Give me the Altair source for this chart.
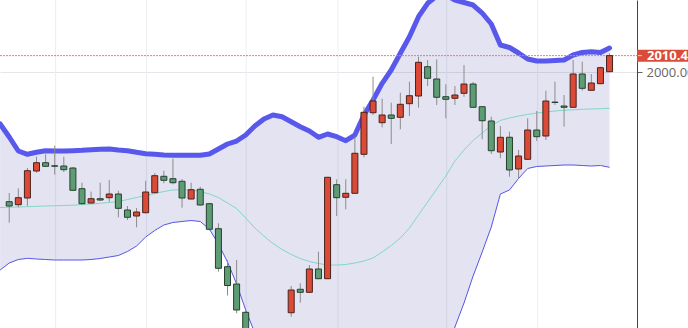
import altair as alt
import pandas as pd

# Daily OHLC candles (index 0..66)
opens = [1919.13, 1917.25, 1921.44, 1938.31, 1943.50, 1941.56, 1941.44, 1940.19, 1927.25, 1918.31,
         1921.00, 1921.63, 1923.94, 1913.94, 1910.19, 1912.25, 1924.75, 1935.00, 1933.50, 1931.88,
         1920.81, 1926.88, 1917.88, 1902.25, 1878.50, 1867.69, 1850.00, 1833.50, 1822.50, 1828.00,
         1818.50, 1849.75, 1864.38, 1862.50, 1877.06, 1871.00, 1929.75, 1921.88, 1924.38, 1948.75,
         1974.75, 1968.50, 1973.31, 1971.88, 1980.38, 1985.19, 2003.50, 1995.81, 1984.75, 1983.75,
         1986.88, 1992.69, 1978.50, 1969.56, 1950.19, 1959.38, 1939.56, 1945.63, 1963.94, 1960.19,
         1981.38, 1978.94, 1978.13, 1998.94, 1988.75, 1992.88, 2000.38]
highs = [1924.56, 1927.50, 1940.19, 1947.25, 1948.75, 1954.13, 1947.25, 1940.81, 1931.00, 1925.38,
         1931.00, 1932.69, 1926.00, 1916.44, 1915.19, 1932.25, 1937.06, 1938.50, 1946.00, 1933.31,
         1931.00, 1928.50, 1918.31, 1905.63, 1882.69, 1882.69, 1850.81, 1836.00, 1831.00, 1830.00,
         1836.00, 1866.44, 1868.13, 1879.56, 1887.88, 1934.56, 1933.13, 1933.13, 1959.75, 1978.50,
         1997.25, 1983.50, 1981.00, 1987.25, 1994.13, 2009.75, 2007.69, 2008.13, 1992.50, 1991.44,
         2004.56, 1993.94, 1978.63, 1972.25, 1966.44, 1962.88, 1951.44, 1971.25, 1975.81, 1988.50,
         1994.13, 1985.81, 2007.69, 2006.63, 1998.94, 2003.50, 2011.88]
lows = [1906.00, 1915.63, 1916.44, 1937.25, 1940.81, 1936.00, 1937.69, 1925.81, 1917.25, 1917.88,
        1919.56, 1919.13, 1909.38, 1907.69, 1903.13, 1911.88, 1924.56, 1930.63, 1930.00, 1915.38,
        1920.63, 1916.75, 1901.13, 1875.38, 1860.50, 1849.38, 1826.44, 1818.00, 1819.00, 1814.00,
        1816.00, 1847.25, 1856.00, 1862.06, 1870.81, 1870.81, 1910.19, 1914.38, 1923.94, 1946.88,
        1973.31, 1965.63, 1955.19, 1964.38, 1972.69, 1977.88, 1991.44, 1979.56, 1971.25, 1979.56,
        1984.75, 1978.00, 1958.13, 1948.94, 1946.25, 1934.75, 1933.75, 1945.19, 1957.06, 1957.69,
        1979.56, 1966.00, 1978.00, 1988.50, 1988.63, 1992.69, 2000.19]
closes = [1916.44, 1921.63, 1938.50, 1943.50, 1941.25, 1941.31, 1939.13, 1926.25, 1917.88, 1921.00,
          1920.19, 1923.94, 1915.00, 1909.38, 1912.69, 1925.19, 1935.38, 1932.50, 1931.00, 1921.44,
          1926.63, 1917.06, 1901.88, 1877.50, 1866.75, 1851.44, 1832.69, 1822.00, 1828.00, 1818.00,
          1834.00, 1863.94, 1862.50, 1877.06, 1871.00, 1934.38, 1921.63, 1924.38, 1949.38, 1975.00,
          1982.06, 1973.31, 1971.25, 1980.00, 1985.38, 2006.25, 1996.25, 1984.38, 1983.13, 1985.81,
          1992.69, 1978.13, 1969.75, 1951.00, 1959.38, 1938.94, 1947.69, 1963.94, 1959.75, 1982.06,
          1981.13, 1978.13, 1998.94, 1990.00, 1993.31, 2002.88, 2010.42]

# Bollinger bands (index -1..66)
band_upper = [1967.69, 1959.56, 1950.81, 1948.75, 1950.00, 1951.00, 1950.81, 1950.81, 1951.00, 1951.25,
              1951.63, 1951.88, 1952.06, 1951.44, 1951.00, 1950.00, 1949.13, 1948.75, 1948.31, 1948.13,
              1948.13, 1948.13, 1948.13, 1948.94, 1952.06, 1955.19, 1957.06, 1960.81, 1966.44, 1970.81,
              1973.31, 1972.25, 1969.13, 1966.00, 1963.31, 1959.38, 1961.44, 1959.75, 1957.25, 1960.81,
              1973.31, 1982.69, 1993.13, 2001.44, 2011.88, 2022.25, 2034.75, 2043.13, 2047.69, 2048.31,
              2045.19, 2043.63, 2042.06, 2037.06, 2030.19, 2017.06, 2015.50, 2012.06, 2008.31, 2007.06,
              2007.06, 2007.38, 2007.69, 2010.81, 2012.38, 2012.88, 2012.38, 2015.19]
band_mid = [1915.50, 1915.63, 1915.81, 1916.00, 1916.25, 1916.44, 1916.56, 1916.75, 1916.94, 1917.38,
            1917.69, 1918.13, 1918.63, 1919.25, 1920.50, 1921.75, 1923.00, 1924.25, 1925.50, 1926.44,
            1926.75, 1926.44, 1925.50, 1923.94, 1921.75, 1918.31, 1914.88, 1908.94, 1902.69, 1897.69,
            1893.00, 1889.25, 1886.13, 1883.63, 1881.75, 1880.50, 1879.56, 1879.56, 1879.88, 1880.81,
            1882.06, 1883.94, 1887.69, 1891.75, 1896.44, 1902.69, 1910.81, 1918.94, 1927.06, 1935.19,
            1944.56, 1951.44, 1957.38, 1962.06, 1966.75, 1969.88, 1971.44, 1972.69, 1973.63, 1974.56,
            1975.19, 1975.81, 1976.25, 1976.56, 1976.88, 1977.06, 1977.25, 1977.50]
band_lower = [1876.44, 1880.81, 1883.00, 1883.75, 1883.31, 1883.00, 1882.69, 1882.69, 1882.69, 1882.69,
              1883.00, 1883.63, 1884.56, 1885.50, 1888.00, 1891.44, 1897.06, 1901.13, 1904.56, 1906.13,
              1906.75, 1907.38, 1906.75, 1902.06, 1892.69, 1881.44, 1867.69, 1851.44, 1837.06, 1824.56,
              1813.94, 1806.44, 1802.69, 1801.44, 1800.19, 1801.44, 1798.31, 1799.56, 1802.69, 1800.81,
              1790.81, 1785.19, 1782.69, 1782.06, 1780.81, 1783.31, 1787.06, 1794.56, 1806.44, 1822.06,
              1840.81, 1855.81, 1872.69, 1887.69, 1903.31, 1923.94, 1926.44, 1933.63, 1939.88, 1941.13,
              1941.44, 1941.75, 1942.06, 1942.06, 1941.75, 1941.44, 1941.75, 1940.63]

# Vertical time gridlines, in candle-index units
time_grid = [5.1, 15.1, 26.05, 36.15, 48.1, 58.1]
price_ticks = [2000]

candles = pd.DataFrame({"i": list(range(len(opens))), "open": opens, "high": highs,
                        "low": lows, "close": closes})
bands = pd.DataFrame({"i": list(range(-1, len(band_upper) - 1)), "upper": band_upper,
                      "mid": band_mid, "lower": band_lower})
last = pd.DataFrame({"price": [closes[-1]], "label": [f"{closes[-1]:.2f}"]})
grid = pd.DataFrame({"g": time_grid})

W, H = 637, 328
FONT = "Open Sans"
xs = alt.Scale(domain=[-0.465, 68.47], nice=False, zero=False)
ys = alt.Scale(domain=[1840.19, 2045.19], nice=False, zero=False)

# One shared right-hand price axis, repeated on every layer so it merges cleanly
yaxis = alt.Axis(orient="right", values=price_ticks, format=".2f", title=None,
                 grid=True, gridColor="#e6e6ea", gridWidth=1,
                 tickColor="#666666", tickSize=5, labelColor="#666666",
                 labelFont=FONT, labelFontSize=13, labelPadding=4,
                 domainColor="#444444", domainWidth=1)


def px(field):
    return alt.X(field, type="quantitative", scale=xs, axis=None)


def py(field):
    return alt.Y(field, type="quantitative", scale=ys, axis=yaxis)


vgrid = alt.Chart(grid).mark_rule(color="#eceef3", strokeWidth=1).encode(
    x=px("g"), y=alt.value(0), y2=alt.value(H))

fill = alt.Chart(bands).mark_area(color="#3c3ca0", opacity=0.14, clip=True).encode(
    x=px("i"), y=py("upper"), y2="lower:Q")

mid = alt.Chart(bands).mark_line(color="#80d8c6", strokeWidth=1, clip=True).encode(
    x=px("i"), y=py("mid"))

lower = alt.Chart(bands).mark_line(color="#5656e8", strokeWidth=1, clip=True).encode(
    x=px("i"), y=py("lower"))

upper = alt.Chart(bands).mark_line(color="#5858ec", strokeWidth=5, strokeJoin="round",
                                   strokeCap="round", clip=True).encode(
    x=px("i"), y=py("upper"))

price_line = alt.Chart(last).mark_rule(color="#e5806f", strokeWidth=1,
                                       strokeDash=[2, 1]).encode(
    x=alt.value(0), x2=alt.value(W), y=py("price"))

wicks = alt.Chart(candles).mark_rule(color="#8c8c8c", strokeWidth=1, clip=True).encode(
    x=px("i"), y=py("low"), y2="high:Q")

is_up = alt.datum.close >= alt.datum.open
bodies = alt.Chart(candles).mark_bar(size=6, strokeWidth=1, clip=True).encode(
    x=px("i"), y=py("open"), y2="close:Q",
    fill=alt.condition(is_up, alt.value("#db4a36"), alt.value("#5e9d74")),
    stroke=alt.condition(is_up, alt.value("#4a221c"), alt.value("#24402e")))

tag = alt.Chart(last).mark_rule(color="#dc4b37", strokeWidth=12).encode(
    x=alt.value(W), x2=alt.value(W + 60), y=py("price"))

tag_tick = alt.Chart(last).mark_rule(color="#f6d2cc", strokeWidth=1).encode(
    x=alt.value(W + 1), x2=alt.value(W + 5), y=py("price"))

tag_text = alt.Chart(last).mark_text(align="left", baseline="middle", color="white",
                                     font=FONT, fontSize=13, fontWeight="bold").encode(
    x=alt.value(W + 10), y=py("price"), text="label:N")

chart = alt.layer(
    vgrid, fill, mid, lower, upper, price_line, wicks, bodies, tag, tag_tick, tag_text
).properties(
    width=W, height=H,
    padding={"left": 0, "top": 0, "right": 51, "bottom": 0},
    autosize=alt.AutoSizeParams(type="none"),
    background="white",
).configure_view(stroke=None)

chart.save("out.html", embed_options={"renderer": "svg", "actions": False})
